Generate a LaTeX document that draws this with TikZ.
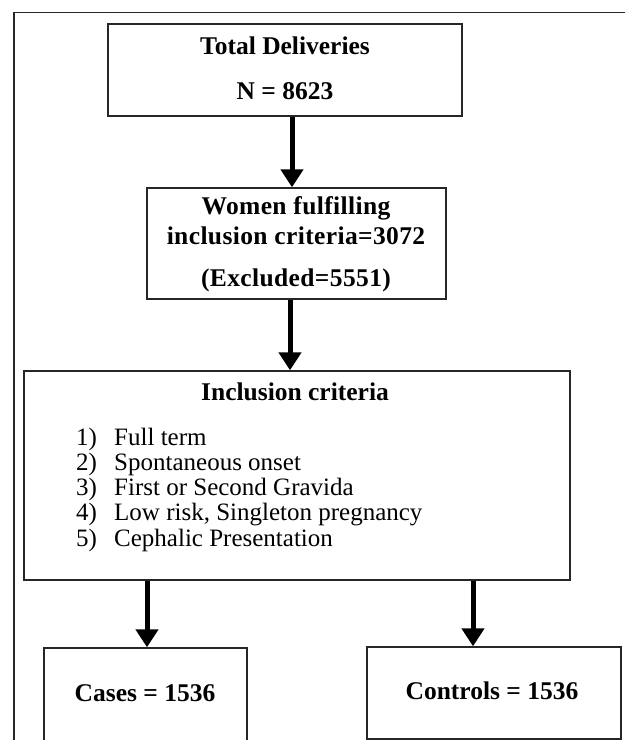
\documentclass[tikz,border=0pt]{standalone}
\usepackage{fontspec}
\setmainfont{Liberation Serif}
\usetikzlibrary{arrows.meta}
\begin{document}
\begin{tikzpicture}[x=1pt,y=-1pt,
  boxst/.style={draw=black!85,line width=1.4pt,fill=none},
  arr/.style={line width=5pt,-{Triangle[width=22pt,length=18pt]}},
  bt/.style={font=\fontsize{25.5}{27}\selectfont\bfseries,inner sep=0pt,anchor=center},
  it/.style={font=\fontsize{25}{26}\selectfont,inner sep=0pt,anchor=base west},
  frame/.style={draw=black!85,line width=1.2pt}]
\useasboundingbox (0,0) rectangle (625,740);
\clip (0,0) rectangle (625,740);
% outer frame
\coordinate (fbl) at (14,745);
\coordinate (ftl) at (14,12.3);
\coordinate (ftr) at (630,12.3);
\draw[frame] (fbl) -- (ftl) -- (ftr);
% boxes
\node[boxst,minimum width=354pt,minimum height=92pt,inner sep=0pt] (b1) at (285,70) {};
\node[boxst,minimum width=299pt,minimum height=111pt,inner sep=0pt] (b2) at (296.5,243.5) {};
\node[boxst,minimum width=546pt,minimum height=209pt,inner sep=0pt] (b3) at (297,475.5) {};
\node[boxst,minimum width=203pt,minimum height=130pt,inner sep=0pt] (b4) at (145.5,713) {};
\node[boxst,minimum width=254pt,minimum height=92pt,inner sep=0pt] (b5) at (494,693) {};
% texts
\node[bt] (t1a) at (285,46) {Total Deliveries};
\node[bt] (t1b) at (285,91) {N = 8623};
\node[bt] (t2a) at (296,208) {\addfontfeatures{LetterSpace=1.5}Women fulfilling};
\node[bt] (t2b) at (296,236) {\addfontfeatures{LetterSpace=1.5}inclusion criteria=3072};
\node[bt] (t2c) at (296,280) {\addfontfeatures{LetterSpace=1.5}(Excluded=5551)};
\node[bt] (t3) at (295,392) {Inclusion criteria};
\node[it] (n1) at (76,445) {1)};
\node[it] (n2) at (76,470.3) {2)};
\node[it] (n3) at (76,495.6) {3)};
\node[it] (n4) at (76,520.9) {4)};
\node[it] (n5) at (76,546.2) {5)};
\node[it] (i1) at (114,445) {Full term};
\node[it] (i2) at (114,470.3) {Spontaneous onset};
\node[it] (i3) at (114,495.6) {First or Second Gravida};
\node[it] (i4) at (114,520.9) {Low risk, Singleton pregnancy};
\node[it] (i5) at (114,546.2) {Cephalic Presentation};
\node[bt] (t4) at (145,693) {Cases = 1536};
\node[bt] (t5) at (492,691) {Controls = 1536};
% arrows
\draw[arr] (292,0 |- b1.south) -- (292,0 |- b2.north);
\draw[arr] (290,0 |- b2.south) -- (290,0 |- b3.north);
\draw[arr] (147,0 |- b3.south) -- (147,0 |- b4.north);
\draw[arr] (473,0 |- b3.south) -- (473,0 |- b5.north);
\end{tikzpicture}
\end{document}
